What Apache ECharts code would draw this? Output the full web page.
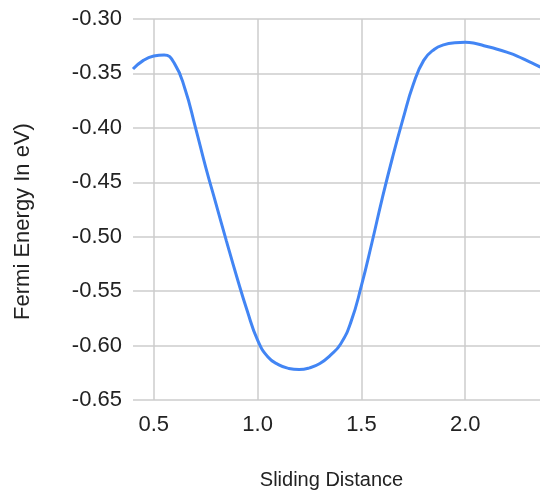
<!DOCTYPE html>
<html>
<head>
<meta charset="utf-8">
<script src="https://cdn.jsdelivr.net/npm/echarts@6/dist/echarts.min.js"></script>
<style>html,body{margin:0;padding:0;background:#fff;}#c{width:540px;height:495px;}</style>
</head>
<body>
<div id="c"></div>
<script>
const slidingDistance = [0.40,0.45,0.50,0.55,0.60,0.65,0.70,0.75,0.80,0.85,0.90,0.95,1.00,1.05,1.10,1.15,1.20,1.25,1.30,1.35,1.40,1.45,1.50,1.55,1.60,1.65,1.70,1.75,1.80,1.85,1.90,1.95,2.00,2.05,2.10,2.15,2.20,2.25,2.30,2.35,2.40];
const fermiEnergy = [-0.346,-0.338,-0.334,-0.333,-0.341,-0.364,-0.399,-0.436,-0.470,-0.504,-0.537,-0.568,-0.595,-0.6105,-0.6175,-0.621,-0.622,-0.6205,-0.6165,-0.609,-0.5985,-0.578,-0.545,-0.506,-0.465,-0.427,-0.392,-0.360,-0.338,-0.328,-0.3235,-0.3218,-0.3214,-0.3225,-0.325,-0.3275,-0.3305,-0.334,-0.3385,-0.343,-0.348];
const xTicks = [0.5,1.0,1.5,2.0];
const xTitle = 'Sliding Distance';
const yTitle = 'Fermi Energy In eV)';

const chart = echarts.init(document.getElementById('c'));
const font = 'Liberation Sans, Arial, sans-serif';
chart.setOption({
  animation:false,
  grid:{left:133,right:0,top:19,bottom:94,containLabel:false},
  xAxis:{
    type:'value', min:0.4, max:2.36,
    name:xTitle, nameLocation:'middle', nameGap:70,
    nameTextStyle:{fontFamily:font,fontSize:20,color:'#222',padding:[0,10,0,0]},
    axisLine:{show:false}, axisTick:{show:false, customValues:xTicks},
    axisLabel:{customValues:xTicks, formatter:v=>v.toFixed(1), fontFamily:font, fontSize:22, color:'#222', margin:14},
    splitLine:{show:true, lineStyle:{color:'#cccccc',width:1.5}}
  },
  yAxis:{
    type:'value', min:-0.65, max:-0.30, interval:0.05,
    name:yTitle, nameLocation:'middle', nameGap:99, nameRotate:90,
    nameTextStyle:{fontFamily:font,fontSize:22,color:'#222',padding:[0,24,0,0]},
    axisLine:{show:false}, axisTick:{show:false},
    axisLabel:{formatter:v=>v.toFixed(2), fontFamily:font, fontSize:22, color:'#222', margin:11},
    splitLine:{show:true, lineStyle:{color:'#cccccc',width:1.5}}
  },
  series:[{
    type:'line', smooth:0.5, showSymbol:false, clip:true,
    data:slidingDistance.map((x,i)=>[x,fermiEnergy[i]]),
    lineStyle:{color:'#4285f4',width:3}
  }]
});
</script>
</body>
</html>
